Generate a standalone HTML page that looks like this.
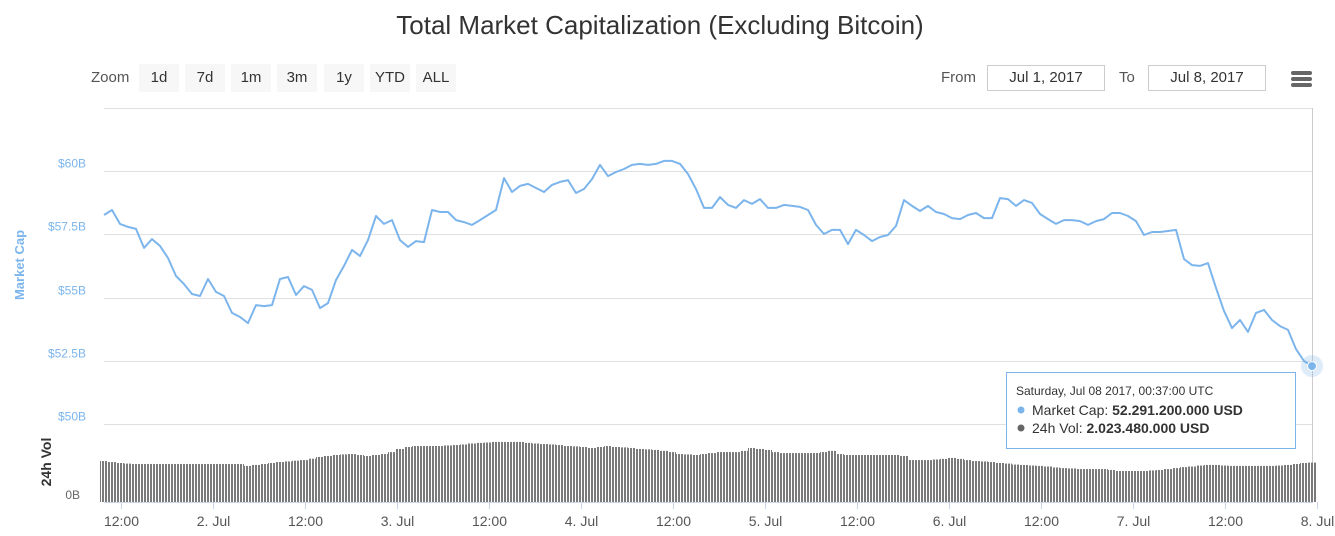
<!DOCTYPE html>
<html><head><meta charset="utf-8"><style>
body{margin:0;background:#fff;width:1335px;height:536px;overflow:hidden;font-family:"Liberation Sans",sans-serif}
svg{display:block}
</style></head><body>
<svg id="chart" width="1335" height="536">
<defs>
<pattern id="stripes" width="3" height="10" patternUnits="userSpaceOnUse"><rect x="0" y="0" width="2" height="10" fill="#7a7a7a"/></pattern>
</defs>
<text x="660" y="34" text-anchor="middle" font-size="26" fill="#333">Total Market Capitalization (Excluding Bitcoin)</text>
<g>
<text x="91" y="82" font-size="15" fill="#555">Zoom</text>
<g><rect x="139" y="64" width="40" height="28" fill="#f7f7f7"/><text x="159" y="82" text-anchor="middle" font-size="15" fill="#333">1d</text></g>
<g><rect x="185" y="64" width="40" height="28" fill="#f7f7f7"/><text x="205" y="82" text-anchor="middle" font-size="15" fill="#333">7d</text></g>
<g><rect x="231" y="64" width="40" height="28" fill="#f7f7f7"/><text x="251" y="82" text-anchor="middle" font-size="15" fill="#333">1m</text></g>
<g><rect x="277" y="64" width="40" height="28" fill="#f7f7f7"/><text x="297" y="82" text-anchor="middle" font-size="15" fill="#333">3m</text></g>
<g><rect x="324" y="64" width="40" height="28" fill="#f7f7f7"/><text x="344" y="82" text-anchor="middle" font-size="15" fill="#333">1y</text></g>
<g><rect x="370" y="64" width="40" height="28" fill="#f7f7f7"/><text x="390" y="82" text-anchor="middle" font-size="15" fill="#333">YTD</text></g>
<g><rect x="416" y="64" width="40" height="28" fill="#f7f7f7"/><text x="436" y="82" text-anchor="middle" font-size="15" fill="#333">ALL</text></g>
<text x="941" y="82" font-size="15" fill="#555">From</text>
<g><rect x="987.5" y="65.5" width="117" height="25" fill="#fff" stroke="#ccc"/><text x="1046" y="82" text-anchor="middle" font-size="15" fill="#333">Jul 1, 2017</text></g>
<text x="1119" y="82" font-size="15" fill="#555">To</text>
<g><rect x="1148.5" y="65.5" width="117" height="25" fill="#fff" stroke="#ccc"/><text x="1207" y="82" text-anchor="middle" font-size="15" fill="#333">Jul 8, 2017</text></g>
<g><rect x="1291" y="71" width="21" height="4" rx="2" fill="#666"/><rect x="1291" y="77" width="21" height="4" rx="2" fill="#666"/><rect x="1291" y="83" width="21" height="4" rx="2" fill="#666"/></g>
</g>
<g id="grid"></g>
<g id="vol"></g>
<g id="line"></g>
<g id="axes"></g>
<text transform="translate(24,265) rotate(-90)" text-anchor="middle" font-size="13" font-weight="bold" fill="#7cb5ec">Market Cap</text>
<text transform="translate(51,462) rotate(-90)" text-anchor="middle" font-size="14" font-weight="bold" fill="#333">24h Vol</text>
<g id="tooltip">
<rect x="1006.5" y="372.5" width="289" height="76" fill="#fff" fill-opacity="0.95" stroke="#7cb5ec"/>
<text x="1016" y="395" font-size="12" fill="#333">Saturday, Jul 08 2017, 00:37:00 UTC</text>
<circle cx="1021" cy="410" r="3.5" fill="#7cb5ec"/>
<text x="1032" y="415" font-size="14" fill="#333">Market Cap: <tspan font-weight="bold">52.291.200.000 USD</tspan></text>
<circle cx="1021" cy="428" r="3.5" fill="#666"/>
<text x="1032" y="433" font-size="14" fill="#333">24h Vol: <tspan font-weight="bold">2.023.480.000 USD</tspan></text>
</g>
</svg>
<script>
const capValues=[58.26,58.46,57.91,57.79,57.71,56.96,57.31,57.04,56.56,55.85,55.53,55.14,55.06,55.73,55.22,55.06,54.39,54.23,53.99,54.70,54.66,54.70,55.73,55.81,55.10,55.45,55.30,54.58,54.78,55.69,56.25,56.88,56.64,57.27,58.22,57.91,58.06,57.27,57.00,57.23,57.19,58.46,58.38,58.38,58.06,57.98,57.87,58.06,58.26,58.46,59.72,59.17,59.41,59.49,59.33,59.17,59.45,59.57,59.64,59.13,59.29,59.68,60.24,59.80,59.96,60.08,60.24,60.28,60.24,60.28,60.40,60.40,60.28,59.88,59.29,58.54,58.54,58.97,58.66,58.54,58.85,58.70,58.89,58.54,58.54,58.66,58.62,58.58,58.46,57.87,57.51,57.67,57.67,57.11,57.67,57.47,57.23,57.39,57.47,57.83,58.85,58.62,58.42,58.62,58.38,58.30,58.14,58.10,58.26,58.34,58.14,58.14,58.93,58.89,58.62,58.85,58.74,58.30,58.10,57.91,58.06,58.06,58.02,57.87,58.02,58.10,58.34,58.34,58.22,58.02,57.47,57.59,57.59,57.63,57.67,56.52,56.28,56.25,56.36,55.38,54.47,53.79,54.11,53.64,54.39,54.51,54.11,53.87,53.72,52.96,52.49,52.29];
const volValues=[2.10,2.05,2.00,1.97,1.95,1.95,1.95,1.95,1.95,1.95,1.95,1.95,1.95,1.95,1.95,1.95,1.95,1.95,1.85,1.90,1.95,2.00,2.05,2.08,2.12,2.15,2.22,2.31,2.36,2.41,2.44,2.46,2.41,2.36,2.41,2.46,2.56,2.72,2.82,2.87,2.87,2.87,2.87,2.90,2.92,2.95,3.00,3.03,3.05,3.08,3.08,3.08,3.08,3.03,3.00,2.97,2.95,2.92,2.87,2.85,2.82,2.77,2.82,2.87,2.82,2.80,2.77,2.72,2.70,2.67,2.62,2.56,2.46,2.44,2.41,2.46,2.51,2.56,2.56,2.56,2.62,2.77,2.72,2.67,2.56,2.51,2.51,2.51,2.51,2.51,2.56,2.62,2.46,2.41,2.41,2.41,2.41,2.41,2.41,2.41,2.36,2.15,2.15,2.15,2.18,2.21,2.26,2.21,2.15,2.10,2.08,2.05,2.00,1.97,1.92,1.90,1.87,1.85,1.82,1.77,1.74,1.72,1.69,1.69,1.69,1.69,1.64,1.59,1.59,1.59,1.59,1.62,1.64,1.69,1.74,1.79,1.82,1.87,1.90,1.90,1.87,1.85,1.85,1.85,1.85,1.85,1.85,1.87,1.90,1.95,2.00,2.02];
const startHour=9.78; // hours after Jul 1 00:00 UTC
const stepHours=1.0435;
const yTicks=[50,52.5,55,57.5,60,62.5];
const yTickLabels=["$50B","$52.5B","$55B","$57.5B","$60B",""];
const xTickHours=[12,24,36,48,60,72,84,96,108,120,132,144,156,168];
const xTickLabels=["12:00","2. Jul","12:00","3. Jul","12:00","4. Jul","12:00","5. Jul","12:00","6. Jul","12:00","7. Jul","12:00","8. Jul"];

const NS="http://www.w3.org/2000/svg";
const L=104,R=1313;
function xs(h){return 29+h*184/24;}
function ys(v){return 171+(60-v)*25.3;}
function yv(v){return 502-v*19.5;}
function mk(tag,attrs,parent){const e=document.createElementNS(NS,tag);for(const k in attrs)e.setAttribute(k,attrs[k]);parent.appendChild(e);return e;}
const grid=document.getElementById('grid'),axes=document.getElementById('axes'),volG=document.getElementById('vol'),lineG=document.getElementById('line');
yTicks.forEach((t,i)=>{
  const y=Math.round(ys(t))+0.5;
  const g=mk('line',{x1:L,x2:R,y1:y,y2:y,stroke:'#e0e0e0','stroke-width':1},grid);
  
  
  if(yTickLabels[i]){
    const tx=mk('text',{x:86,y:y-4,'text-anchor':'end','font-size':12,fill:'#7cb5ec'},axes);
    tx.textContent=yTickLabels[i];
    
    
  }
});
const vb=mk('line',{x1:R-0.5,x2:R-0.5,y1:108,y2:502,stroke:'#ccc'},grid);


const zl=mk('text',{x:80,y:499,'text-anchor':'end','font-size':12,fill:'#666'},axes);
zl.textContent='0B';


const bw=xs(startHour+stepHours)-xs(startHour);
volValues.forEach((v,i)=>{
  const x=xs(startHour+i*stepHours);
  const b=mk('rect',{x:x-bw/2,y:yv(v),width:bw,height:502-yv(v),fill:'url(#stripes)'},volG);
  
  
});
const xl=mk('line',{x1:L,x2:R,y1:502.5,y2:502.5,stroke:'#ccd6eb'},axes);


xTickHours.forEach((h,i)=>{
  const x=Math.round(xs(h))+0.5;
  const t=mk('line',{x1:x,x2:x,y1:502,y2:509,stroke:'#ccd6eb'},axes);
  
  
  const tx=mk('text',{x:x,y:526,'text-anchor':'middle','font-size':14,fill:'#555'},axes);
  tx.textContent=xTickLabels[i];
  
  
});
const d=capValues.map((v,i)=>(i?'L':'M')+xs(startHour+i*stepHours).toFixed(1)+' '+ys(v).toFixed(1)).join(' ');
const p=mk('path',{d:d,fill:'none',stroke:'#7cb5ec','stroke-width':2,'stroke-linejoin':'round'},lineG);


const li=capValues.length-1;
const lx=xs(startHour+li*stepHours),ly=ys(capValues[li]);
const halo=mk('circle',{cx:lx,cy:ly,r:11,fill:'#7cb5ec','fill-opacity':0.25},lineG);


const m=mk('circle',{cx:lx,cy:ly,r:4.5,fill:'#7cb5ec',stroke:'#fff','stroke-width':1},lineG);


</script>
</body></html>
